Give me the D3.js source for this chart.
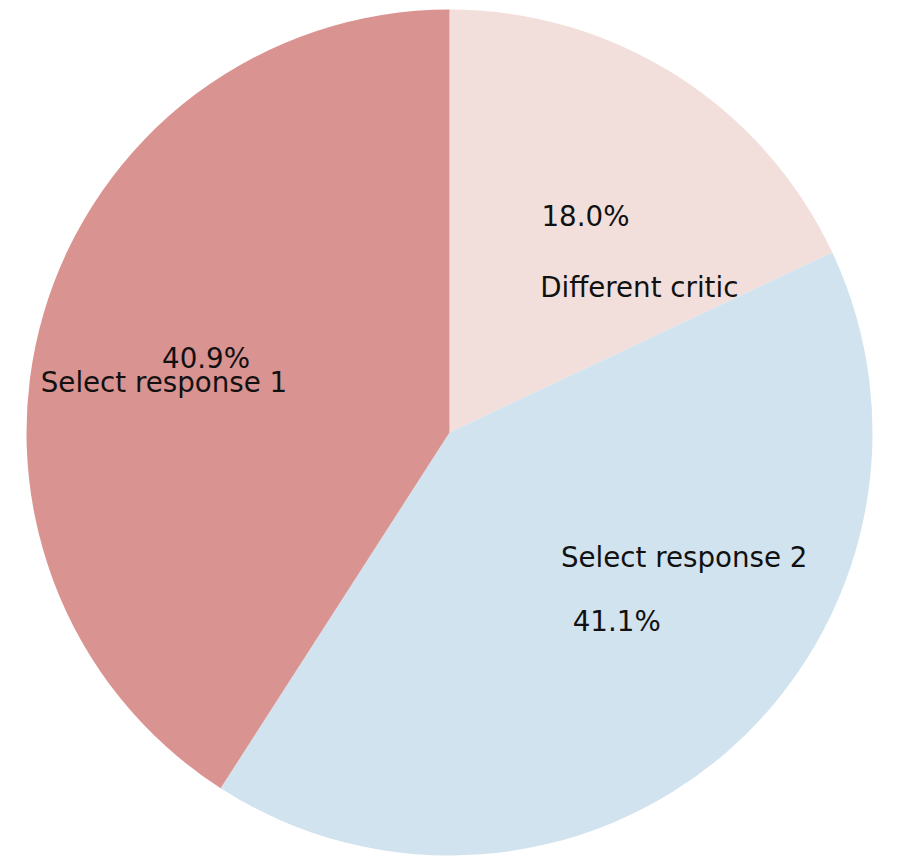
<!DOCTYPE html>
<html>
<head>
<meta charset="utf-8">
<script src="https://cdn.jsdelivr.net/npm/d3@7"></script>
<style>
  body { margin: 0; background: #fff; }
  text { font-family: "DejaVu Sans", sans-serif; }
</style>
</head>
<body>
<div id="chart"></div>
<script>
// slice data, clockwise from 12 o'clock
let categories = ["Different critic", "Select response 2", "Select response 1"];
let shares = [18.0, 41.1, 40.9];
let colors = ["#f2dfdc", "#d1e3ef", "#d99391"];

let width = 902, height = 868;
let cx = 449.5, cy = 432.5, radius = 423;
let fontSize = 27.7;

let svg = d3.select("#chart")
    .append("svg")
    .attr("width", width)
    .attr("height", height)
    .append("g")
    .attr("transform", `translate(${cx},${cy})`);

let pie = d3.pie().sort(null).value(d => d.value).startAngle(0).endAngle(2 * Math.PI);
let arc = d3.arc().innerRadius(0).outerRadius(radius);

let data = categories.map((c, i) => ({ name: c, value: shares[i], color: colors[i] }));
let arcs = pie(data);

svg.selectAll("path.slice")
    .data(arcs)
    .enter()
    .append("path")
    .attr("class", "slice")
    .attr("d", arc)
    .attr("fill", d => d.data.color);

// point at fraction of the radius along the mid angle
function polar(d, frac) {
    let a = (d.startAngle + d.endAngle) / 2;
    return [Math.sin(a) * radius * frac, -Math.cos(a) * radius * frac];
}

// category labels (labeldistance 0.4)
svg.selectAll("text.label")
    .data(arcs)
    .enter()
    .append("text")
    .attr("class", "label")
    .attr("x", d => polar(d, 0.4)[0])
    .attr("y", d => polar(d, 0.4)[1] - 2)
    .attr("text-anchor", d => polar(d, 0.4)[0] > 0 ? "start" : "end")
    .attr("dominant-baseline", "central")
    .attr("font-size", fontSize)
    .attr("fill", "#111")
    .text(d => d.data.name);

// percentages (pctdistance 0.6)
svg.selectAll("text.pct")
    .data(arcs)
    .enter()
    .append("text")
    .attr("class", "pct")
    .attr("x", d => polar(d, 0.6)[0])
    .attr("y", d => polar(d, 0.6)[1] - 2)
    .attr("text-anchor", "middle")
    .attr("dominant-baseline", "central")
    .attr("font-size", fontSize)
    .attr("fill", "#111")
    .text(d => d.data.value.toFixed(1) + "%");
</script>
</body>
</html>
